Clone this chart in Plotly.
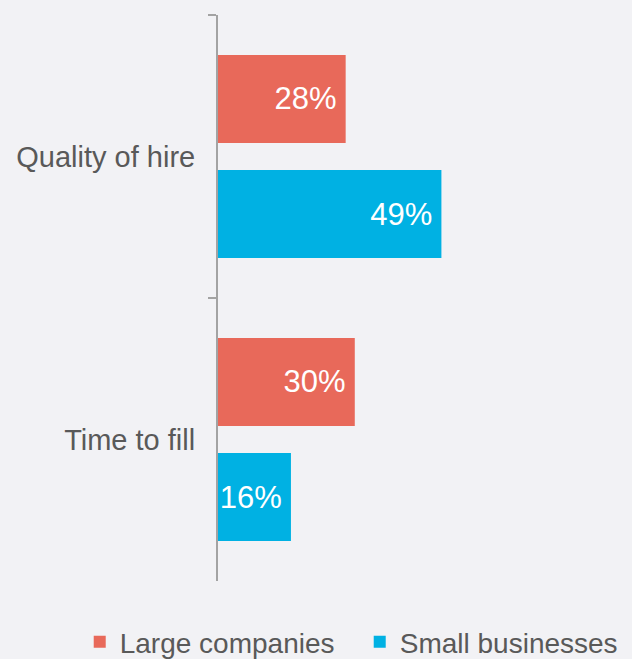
import plotly.graph_objects as go

# Hiring metrics by company size (share of respondents, %)
categories = ["Quality of hire", "Time to fill"]
large_companies = [28, 30]
small_businesses = [49, 16]
series_names = ["Large companies", "Small businesses"]

RED = "#e8695a"
BLUE = "#00b1e3"
BG = "#f2f2f5"
AXIS_GRAY = "#a3a3a3"
TEXT_GRAY = "#595959"
FONT = "Liberation Sans, Arial, sans-serif"

fig = go.Figure()
for name, vals, color in [
    (series_names[0], large_companies, RED),
    (series_names[1], small_businesses, BLUE),
]:
    fig.add_trace(go.Bar(
        y=categories,
        x=vals,
        name=name,
        orientation="h",
        marker=dict(color=color, line=dict(width=0)),
        texttemplate="%{x}%\u2009",
        textposition="inside",
        insidetextanchor="end",
        constraintext="none",
        textangle=0,
        textfont=dict(color="white", size=31, family=FONT),
        hoverinfo="skip",
    ))

fig.update_layout(
    width=632,
    height=659,
    margin=dict(l=218, r=0, t=15, b=78, autoexpand=False),
    paper_bgcolor=BG,
    plot_bgcolor=BG,
    barmode="group",
    bargap=0.187,
    bargroupgap=0.235,
    font=dict(family=FONT, color=TEXT_GRAY),
    showlegend=True,
    legend=dict(
        orientation="h",
        x=-0.334,
        xanchor="left",
        y=-0.108,
        yanchor="middle",
        entrywidth=235,
        font=dict(size=28, color=TEXT_GRAY, family=FONT),
        bgcolor="rgba(0,0,0,0)",
        traceorder="normal",
        itemclick=False,
    ),
)

fig.update_xaxes(
    range=[0, 90.8],
    visible=False,
    showgrid=False,
    zeroline=False,
)

fig.update_yaxes(
    type="category",
    categoryorder="array",
    categoryarray=categories,
    range=[1.5, -0.5],
    automargin=False,
    showline=True,
    linecolor=AXIS_GRAY,
    linewidth=2,
    ticks="outside",
    tickson="boundaries",
    ticklen=8,
    tickwidth=2,
    tickcolor=AXIS_GRAY,
    ticklabelstandoff=15,
    showgrid=False,
    zeroline=False,
    tickfont=dict(size=29, color=TEXT_GRAY, family=FONT),
)

fig.write_html("out.html")
